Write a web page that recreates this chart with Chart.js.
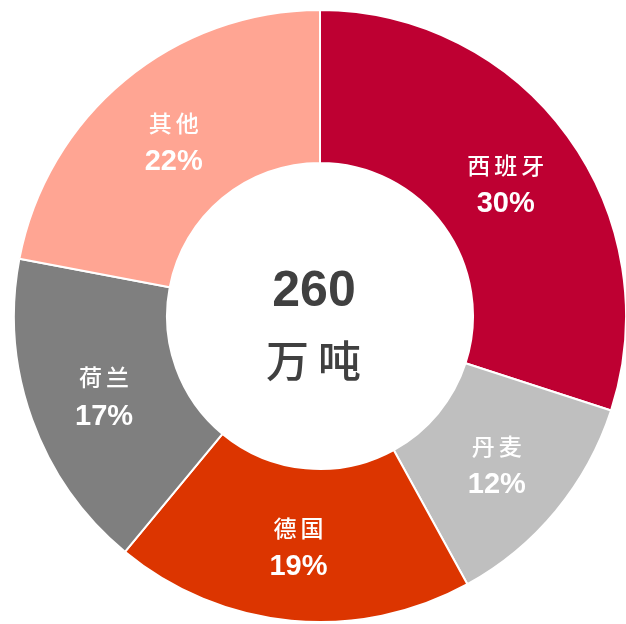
<!DOCTYPE html>
<html>
<head>
<meta charset="utf-8">
<script src="https://cdn.jsdelivr.net/npm/chart.js@4.4.1/dist/chart.umd.min.js"></script>
<style>
  html, body { margin: 0; padding: 0; background: #fff; overflow: hidden; }
  #wrap { position: absolute; left: 13px; top: 9px; width: 614px; height: 614px; }
</style>
</head>
<body>
<div id="wrap"><canvas id="pie" width="614" height="614"></canvas></div>
<script>
// share of output by country
const countries = ['西班牙', '丹麦', '德国', '荷兰', '其他'];
const shares = [30, 12, 19, 17, 22];
const sliceColors = ['#BE0032', '#BFBFBF', '#DC3500', '#7F7F7F', '#FFA593'];
const totalValue = '260';
const totalUnit = '万吨';

const cjkFont = '"Noto Sans CJK SC", sans-serif';
const latinFont = '"Liberation Sans", Arial, sans-serif';

// writes name + percent inside each slice and the total in the hole
const sliceLabels = {
    id: 'sliceLabels',
    afterDatasetsDraw(chart) {
        const ctx = chart.ctx;
        const meta = chart.getDatasetMeta(0);
        ctx.save();
        ctx.textAlign = 'center';
        ctx.textBaseline = 'middle';
        ctx.fillStyle = '#fff';
        meta.data.forEach((arc, i) => {
            const mid = (arc.startAngle + arc.endAngle) / 2;
            const r = (arc.innerRadius + arc.outerRadius) / 2;
            const x = arc.x + Math.cos(mid) * r;
            const y = arc.y + Math.sin(mid) * r;
            ctx.font = '500 23px ' + cjkFont;
            ctx.letterSpacing = '4px';
            ctx.fillText(countries[i], x + 2, y - 16);
            ctx.letterSpacing = '0px';
            ctx.font = 'bold 29px ' + latinFont;
            ctx.fillText(shares[i] + '%', x, y + 23);
        });

        // total sits a little left of the ring centre
        const cx = meta.data[0].x - 6, cy = meta.data[0].y;
        ctx.fillStyle = '#404040';
        ctx.font = 'bold 50px ' + latinFont;
        ctx.fillText(totalValue, cx, cy - 24);
        ctx.font = '500 43px ' + cjkFont;
        ctx.letterSpacing = '9px';
        ctx.fillText(totalUnit, cx + 4, cy + 45);
        ctx.restore();
    }
};

new Chart(document.getElementById('pie'), {
    type: 'doughnut',
    data: {
        labels: countries,
        datasets: [{
            data: shares,
            backgroundColor: sliceColors,
            borderColor: '#fff',
            borderWidth: 2
        }]
    },
    options: {
        responsive: false,
        animation: false,
        devicePixelRatio: 1,
        cutout: '50%',
        layout: { padding: 0 },
        plugins: {
            legend: { display: false },
            tooltip: { enabled: false }
        }
    },
    plugins: [sliceLabels]
});
</script>
</body>
</html>
